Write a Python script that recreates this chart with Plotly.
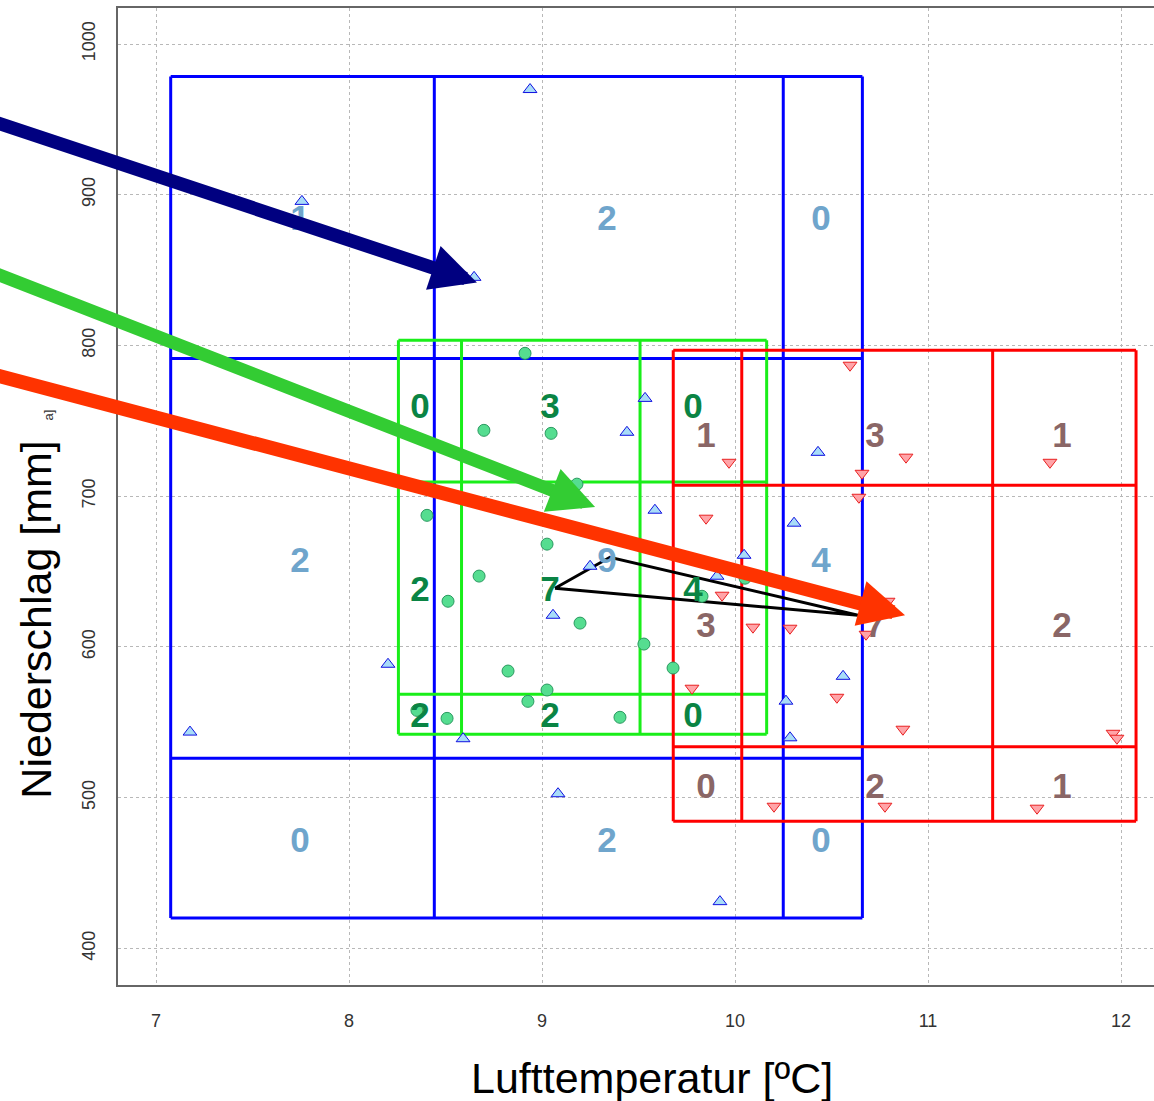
import plotly.graph_objects as go

# ---------------- data ----------------
x_ticks = [7, 8, 9, 10, 11, 12]
y_ticks = [400, 500, 600, 700, 800, 900, 1000]

# station points (Lufttemperatur, Niederschlag)
blue_x = [8.938, 7.756, 8.648, 9.534, 9.440, 10.430, 9.585, 10.306, 10.047, 9.249,
          9.907, 9.057, 10.560, 8.202, 10.264, 7.176, 10.285, 8.591, 9.083, 9.922]
blue_y = [969.8, 895.6, 845.2, 764.9, 742.4, 729.1, 690.7, 682.1, 660.8, 653.5,
          646.9, 621.0, 580.5, 588.5, 564.0, 543.5, 539.7, 539.1, 502.6, 431.0]

red_x = [10.596, 9.969, 10.886, 11.632, 10.658, 10.642, 9.850, 9.933, 10.793, 10.093,
         10.285, 10.679, 9.777, 10.528, 10.870, 11.959, 11.979, 10.202, 10.777, 11.565]
red_y = [786.9, 722.5, 725.9, 722.5, 715.2, 699.3, 685.4, 634.3, 630.3, 613.1,
         612.4, 608.4, 572.6, 566.6, 545.4, 542.7, 539.4, 494.3, 494.3, 493.0]

green_x = [8.912, 8.699, 9.047, 8.404, 8.513, 9.181, 9.026, 8.674, 9.197, 8.824,
           9.026, 9.145, 9.528, 9.679, 9.829, 10.052, 8.352, 8.508, 8.927, 9.404]
green_y = [794.8, 743.7, 741.7, 687.3, 630.3, 708.0, 668.2, 647.0, 615.8, 584.0,
           571.4, 697.9, 601.9, 586.0, 633.6, 645.6, 557.9, 552.6, 563.9, 553.3]

# class grid edges
blue_xe = [7.076, 8.442, 10.250, 10.660]
blue_ye = [420.1, 526.2, 791.3, 978.4]
green_xe = [8.256, 8.583, 9.508, 10.164]
green_ye = [542.1, 568.6, 709.4, 803.4]
red_xe = [9.680, 10.035, 11.335, 12.078]
red_ye = [484.4, 533.7, 707.2, 796.8]

# cell counts (rows top -> bottom, columns left -> right)
blue_counts = ["1", "2", "0", "2", "9", "4", "0", "2", "0"]
blue_lab_x = [7.746, 9.337, 10.446]
blue_lab_y = [882.3, 655.5, 469.8]
green_counts = ["0", "3", "0", "2", "7", "4", "2", "2", "0"]
green_lab_x = [8.368, 9.041, 9.782]
green_lab_y = [758.0, 636.0, 552.4]
red_counts = ["1", "3", "1", "3", "7", "2", "0", "2", "1"]
red_lab_x = [9.850, 10.725, 11.694]
red_lab_y = [738.6, 612.6, 505.8]

# connecting triangle between class centres
centroid_x = [9.067, 9.352, 10.637]
centroid_y = [638.9, 659.5, 621.0]

# arrows (tail -> head)
arrow_tail_x = [6.140, 6.140, 6.140]
arrow_tail_y = [949.3, 849.1, 781.3]
arrow_head_x = [8.663, 9.275, 10.881]
arrow_head_y = [841.8, 692.8, 621.0]
arrow_colors = ["#000080", "#33cc33", "#ff3300"]
arrow_widths = [13.5, 13, 14]

FONT = "Liberation Sans, Arial, sans-serif"


def grid_lines(xe, ye):
    xs, ys = [], []
    for x in xe:
        xs += [x, x, None]
        ys += [ye[0], ye[-1], None]
    for y in ye:
        xs += [xe[0], xe[-1], None]
        ys += [y, y, None]
    return xs, ys


def label_trace(counts, lx, ly, color):
    xs, ys, ts = [], [], []
    for r, yv in enumerate(ly):
        for c, xv in enumerate(lx):
            xs.append(xv)
            ys.append(yv)
            ts.append("<b>" + counts[r * len(lx) + c] + "</b>")
    return go.Scatter(x=xs, y=ys, mode="text", text=ts, textposition="middle center",
                      textfont=dict(family=FONT, size=35, color=color),
                      hoverinfo="skip", showlegend=False)


fig = go.Figure()

for xe, ye, col in [(blue_xe, blue_ye, "#0000ff"), (green_xe, green_ye, "#1aee1a"),
                    (red_xe, red_ye, "#ff0000")]:
    gx, gy = grid_lines(xe, ye)
    fig.add_trace(go.Scatter(x=gx, y=gy, mode="lines", line=dict(color=col, width=3),
                             hoverinfo="skip", showlegend=False))

fig.add_trace(go.Scatter(x=centroid_x + centroid_x[:1], y=centroid_y + centroid_y[:1],
                         mode="lines", line=dict(color="black", width=3),
                         hoverinfo="skip", showlegend=False))

fig.add_trace(go.Scatter(x=blue_x, y=blue_y, mode="markers", showlegend=False,
                         marker=dict(symbol="triangle-up", size=12, color="#a8dcf8",
                                     line=dict(color="#1010e0", width=1))))
fig.add_trace(go.Scatter(x=red_x, y=red_y, mode="markers", showlegend=False,
                         marker=dict(symbol="triangle-down", size=12, color="#ffa4a8",
                                     line=dict(color="#e82020", width=1))))
fig.add_trace(go.Scatter(x=green_x, y=green_y, mode="markers", showlegend=False,
                         marker=dict(symbol="circle", size=12, color="#55dd90",
                                     line=dict(color="#2a9960", width=1))))

fig.add_trace(label_trace(blue_counts, blue_lab_x, blue_lab_y, "#6fa5cc"))
fig.add_trace(label_trace(green_counts, green_lab_x, green_lab_y, "#0a8444"))
fig.add_trace(label_trace(red_counts, red_lab_x, red_lab_y, "#8a6666"))

annotations = []
for tx, ty, hx, hy, c, w in zip(arrow_tail_x, arrow_tail_y, arrow_head_x, arrow_head_y,
                                arrow_colors, arrow_widths):
    annotations.append(dict(x=hx, y=hy, xref="x", yref="y", ax=tx, ay=ty, axref="x", ayref="y",
                            text="", showarrow=True, arrowhead=2, arrowsize=9.2 / w,
                            arrowwidth=w, arrowcolor=c, standoff=0))

annotations.append(dict(text="Lufttemperatur [ºC]", xref="paper", yref="paper",
                        x=0.5154, y=-0.0952, xanchor="center", yanchor="middle",
                        showarrow=False, font=dict(family=FONT, size=43, color="black")))
annotations.append(dict(text="Niederschlag [mm]", xref="paper", yref="paper",
                        x=-0.0795, y=0.3736, xanchor="center", yanchor="middle", textangle=-90,
                        showarrow=False, font=dict(family=FONT, size=43, color="black")))
annotations.append(dict(text="a]", xref="paper", yref="paper",
                        x=-0.068, y=0.5834, xanchor="center", yanchor="middle", textangle=-90,
                        showarrow=False, font=dict(family=FONT, size=13, color="#333333")))

fig.update_layout(
    width=1154, height=1101,
    margin=dict(l=118, r=0, t=8, b=116, autoexpand=False),
    paper_bgcolor="white", plot_bgcolor="white",
    annotations=annotations,
    xaxis=dict(range=[6.803, 12.171], tickvals=x_ticks, ticktext=[str(v) for v in x_ticks],
               showgrid=True, gridcolor="#b8b8b8", griddash="dot", gridwidth=1,
               showline=True, linecolor="#666666", linewidth=2, mirror=True,
               ticks="", zeroline=False, automargin=False, ticklabelstandoff=18,
               tickfont=dict(family=FONT, size=18, color="#333333")),
    yaxis=dict(range=[375.7, 1023.9], tickvals=y_ticks, ticktext=[str(v) for v in y_ticks],
               tickangle=-90,
               showgrid=True, gridcolor="#b8b8b8", griddash="dot", gridwidth=1,
               showline=True, linecolor="#666666", linewidth=2, mirror=False,
               ticks="", zeroline=False, automargin=False, ticklabelstandoff=14,
               tickfont=dict(family=FONT, size=18, color="#333333")),
)

fig.write_html("out.html", config={"displayModeBar": False},
               post_script="document.body.style.margin='0';document.body.style.overflow='hidden';")
